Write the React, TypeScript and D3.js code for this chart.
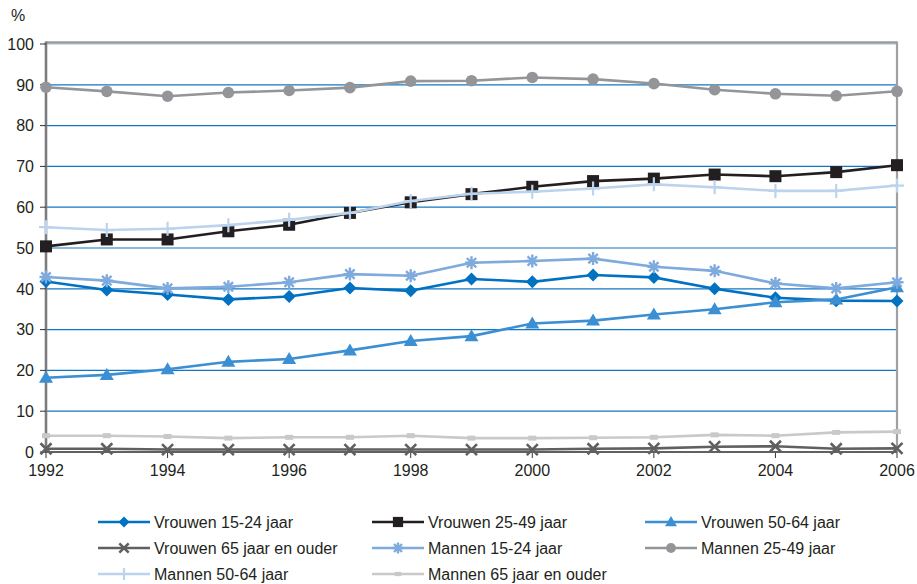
import React from "react";
import * as d3 from "d3";

const years = [1992, 1993, 1994, 1995, 1996, 1997, 1998, 1999, 2000, 2001, 2002, 2003, 2004, 2005, 2006];
const yTicks = [0, 10, 20, 30, 40, 50, 60, 70, 80, 90, 100];
const xTickYears = [1992, 1994, 1996, 1998, 2000, 2002, 2004, 2006];

const vrouwen1524 = [41.8, 39.7, 38.6, 37.4, 38.1, 40.2, 39.5, 42.4, 41.7, 43.4, 42.8, 40.0, 37.8, 37.1, 37.0];
const vrouwen2549 = [50.4, 52.1, 52.1, 54.1, 55.7, 58.6, 61.2, 63.2, 65.0, 66.4, 67.0, 68.0, 67.6, 68.6, 70.3];
const vrouwen5064 = [18.2, 18.9, 20.3, 22.1, 22.8, 24.9, 27.2, 28.4, 31.5, 32.2, 33.7, 35.0, 36.7, 37.4, 40.4];
const vrouwen65 = [0.8, 0.8, 0.6, 0.6, 0.6, 0.6, 0.6, 0.6, 0.6, 0.8, 0.9, 1.3, 1.4, 0.8, 0.9];
const mannen1524 = [42.9, 42.0, 40.1, 40.5, 41.6, 43.6, 43.2, 46.4, 46.8, 47.4, 45.4, 44.4, 41.3, 40.1, 41.6];
const mannen2549 = [89.4, 88.4, 87.2, 88.1, 88.6, 89.3, 90.9, 91.0, 91.8, 91.4, 90.3, 88.8, 87.8, 87.3, 88.4];
const mannen5064 = [55.1, 54.4, 54.7, 55.6, 56.9, 58.6, 61.5, 63.3, 63.8, 64.6, 65.6, 64.9, 64.0, 64.0, 65.3];
const mannen65 = [4.0, 4.0, 3.8, 3.4, 3.6, 3.6, 4.0, 3.4, 3.4, 3.5, 3.6, 4.2, 4.0, 4.8, 5.0];

type Marker = "diamond" | "square" | "triangle" | "times" | "asterisk" | "circle" | "plus" | "dash";

const seriesNames = [
  "Vrouwen 15-24 jaar",
  "Vrouwen 25-49 jaar",
  "Vrouwen 50-64 jaar",
  "Vrouwen 65 jaar en ouder",
  "Mannen 15-24 jaar",
  "Mannen 25-49 jaar",
  "Mannen 50-64 jaar",
  "Mannen 65 jaar en ouder",
];
const seriesValues = [vrouwen1524, vrouwen2549, vrouwen5064, vrouwen65, mannen1524, mannen2549, mannen5064, mannen65];
const seriesColors = ["#0072c1", "#231f20", "#3b8fd2", "#5f6062", "#7eaadd", "#939598", "#bcd3ee", "#c9c9c9"];
const seriesMarkers: Marker[] = ["diamond", "square", "triangle", "times", "asterisk", "circle", "plus", "dash"];

function MarkerShape({ type, x, y, color, scale = 1 }: { type: Marker; x: number; y: number; color: string; scale?: number }) {
  const s = scale;
  switch (type) {
    case "diamond": {
      const r = 6.5 * s;
      return <path d={`M${x},${y - r}L${x + r},${y}L${x},${y + r}L${x - r},${y}Z`} fill={color} />;
    }
    case "square": {
      const r = 6 * s;
      return <rect x={x - r} y={y - r} width={2 * r} height={2 * r} fill={color} />;
    }
    case "triangle": {
      const w = 7 * s;
      return <path d={`M${x},${y - 7 * s}L${x + w},${y + 5 * s}L${x - w},${y + 5 * s}Z`} fill={color} />;
    }
    case "times": {
      const r = 5.5 * s;
      return (
        <path d={`M${x - r},${y - r}L${x + r},${y + r}M${x - r},${y + r}L${x + r},${y - r}`} stroke={color} strokeWidth={2.6} fill="none" />
      );
    }
    case "asterisk": {
      const r = 6.5 * s;
      const d = r * 0.72;
      return (
        <path
          d={`M${x},${y - r}L${x},${y + r}M${x - r},${y}L${x + r},${y}M${x - d},${y - d}L${x + d},${y + d}M${x - d},${y + d}L${x + d},${y - d}`}
          stroke={color}
          strokeWidth={2.4}
          fill="none"
        />
      );
    }
    case "circle":
      return <circle cx={x} cy={y} r={5.8 * s} fill={color} />;
    case "plus": {
      const r = 7 * s;
      return <path d={`M${x},${y - r}L${x},${y + r}M${x - r},${y}L${x + r},${y}`} stroke={color} strokeWidth={2.2} fill="none" />;
    }
    case "dash":
      return <rect x={x - 4 * s} y={y - 2.5 * s} width={8 * s} height={5 * s} fill={color} />;
  }
}

export default function App() {
  const W = 917;
  const H = 584;
  const left = 46;
  const right = 897;
  const top = 44;
  const bottom = 452;

  const x = d3.scaleLinear().domain([1992, 2006]).range([left, right]);
  const y = d3.scaleLinear().domain([0, 100]).range([bottom, top]);
  const line = d3
    .line<number>()
    .x((_, i) => x(years[i]))
    .y((v) => y(v));

  const font = "'Liberation Sans', Arial, Helvetica, sans-serif";
  const legendCols = [98, 372, 645];
  const legendRows = [522, 548, 574];

  return (
    <svg width={W} height={H} style={{ position: "absolute", left: 0, top: 0, background: "#fff" }} fontFamily={font}>
      {/* gridlines */}
      {yTicks.slice(1).map((t) => (
        <line key={t} x1={left} x2={right} y1={y(t)} y2={y(t)} stroke={t === 100 ? "#9cc6e8" : "#1277c4"} strokeWidth={1.2} />
      ))}
      {/* frame */}
      <line x1={left} x2={right} y1={top - 1.5} y2={top - 1.5} stroke="#9b9b9d" strokeWidth={2.5} />
      <line x1={right} x2={right} y1={top - 2.5} y2={bottom} stroke="#a0a0a2" strokeWidth={2.2} />
      <line x1={left} x2={left} y1={top - 2.5} y2={bottom + 1} stroke="#7d7d7f" strokeWidth={2.6} />
      {/* y ticks */}
      {yTicks.map((t) => (
        <g key={t}>
          <line x1={left - 6} x2={left} y1={y(t)} y2={y(t)} stroke="#333" strokeWidth={1} />
          <text x={34} y={y(t)} dy="0.36em" textAnchor="end" fontSize={16} fill="#231f20">
            {t}
          </text>
        </g>
      ))}
      <text x={11} y={21} fontSize={16} fill="#231f20">%</text>
      {/* x ticks */}
      {xTickYears.map((yr) => (
        <g key={yr}>
          <line x1={x(yr)} x2={x(yr)} y1={bottom} y2={bottom + 6} stroke="#333" strokeWidth={1} />
          <text x={x(yr)} y={bottom + 24} textAnchor="middle" fontSize={16} fill="#231f20">
            {yr}
          </text>
        </g>
      ))}
      {/* series */}
      {seriesValues.map((vals, si) => (
        <g key={seriesNames[si]}>
          <path d={line(vals) ?? ""} fill="none" stroke={seriesColors[si]} strokeWidth={2.6} strokeLinejoin="round" />
          {vals.map((v, i) => (
            <MarkerShape key={i} type={seriesMarkers[si]} x={x(years[i])} y={y(v)} color={seriesColors[si]} />
          ))}
        </g>
      ))}
      {/* x axis line */}
      <line x1={left} x2={right} y1={bottom} y2={bottom} stroke="#5f6062" strokeWidth={2} />
      {/* legend */}
      {seriesNames.map((name, i) => {
        const cx = legendCols[i % 3];
        const cy = legendRows[Math.floor(i / 3)];
        return (
          <g key={name}>
            <line x1={cx} x2={cx + 52} y1={cy} y2={cy} stroke={seriesColors[i]} strokeWidth={2.6} />
            <MarkerShape type={seriesMarkers[i]} x={cx + 26} y={cy} color={seriesColors[i]} scale={0.85} />
            <text x={cx + 56} y={cy} dy="0.36em" fontSize={16} fill="#231f20">
              {name}
            </text>
          </g>
        );
      })}
    </svg>
  );
}
